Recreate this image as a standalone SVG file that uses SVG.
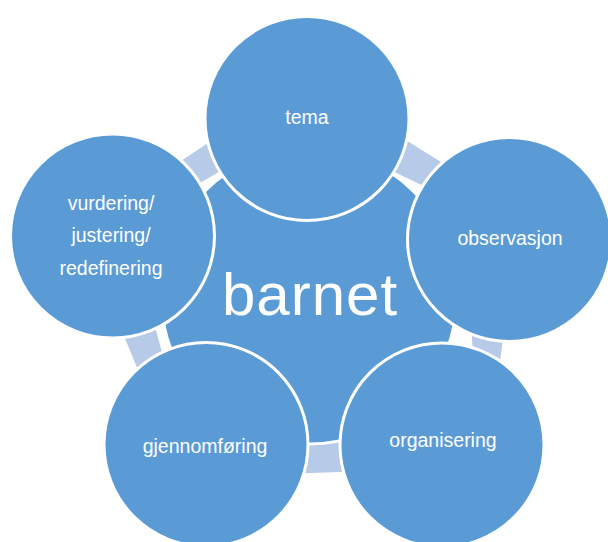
<svg xmlns="http://www.w3.org/2000/svg" width="608" height="542" viewBox="0 0 608 542">
  <style>
    .conn { fill: #B7CBE8; stroke: none; }
    .node { fill: #5B9BD5; stroke: #FFFFFF; stroke-width: 3; }
    .lbl { font-family: "Liberation Sans", Arial, sans-serif; font-size: 19.5px; fill: #FFFFFF; text-anchor: middle; }
    .center-lbl { font-family: "Liberation Sans", Arial, sans-serif; font-size: 60px; fill: #FFFFFF; text-anchor: middle; letter-spacing: 1px; }
  </style>
  <rect x="0" y="0" width="608" height="542" fill="#FFFFFF"/>
  <g id="connectors">
    <polygon class="conn" points="401,137 449,167 432,190 388,169"/>
    <polygon class="conn" points="471,325 504,330 499,370 474,368"/>
    <polygon class="conn" points="295,441 357,441 357,471.5 295,473.5"/>
    <polygon class="conn" points="121,329 154,323 166,367 141,377"/>
    <polygon class="conn" points="173.5,166 215.5,138 225.5,168 191.5,188"/>
  </g>
  <g id="barnet">
    <circle class="node" cx="309" cy="296" r="148"/>
    <text class="center-lbl" x="310" y="315">barnet</text>
  </g>
  <g id="tema">
    <circle class="node" cx="307" cy="118.5" r="102"/>
    <text class="lbl" x="307" y="124">tema</text>
  </g>
  <g id="observasjon">
    <circle class="node" cx="509.5" cy="239.5" r="102"/>
    <text class="lbl" x="510" y="245">observasjon</text>
  </g>
  <g id="organisering">
    <circle class="node" cx="442" cy="445" r="102"/>
    <text class="lbl" x="443" y="447">organisering</text>
  </g>
  <g id="gjennomforing">
    <circle class="node" cx="206" cy="444.5" r="102"/>
    <text class="lbl" x="205" y="453">gjennomføring</text>
  </g>
  <g id="vurdering">
    <circle class="node" cx="112.5" cy="236" r="102"/>
    <text class="lbl" x="111" y="210">vurdering/</text>
    <text class="lbl" x="111" y="242">justering/</text>
    <text class="lbl" x="111" y="275">redefinering</text>
  </g>
</svg>
